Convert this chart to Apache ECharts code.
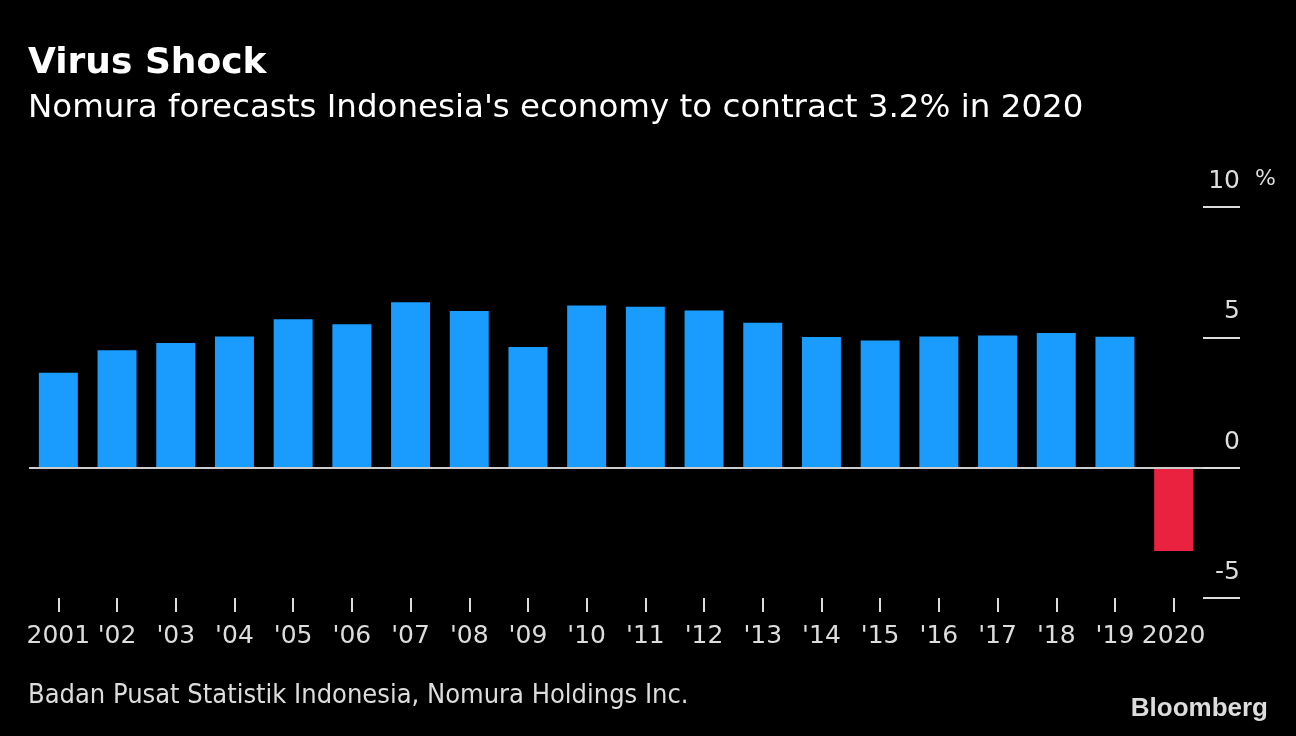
<!DOCTYPE html>
<html>
<head>
<meta charset="utf-8">
<script src="https://cdn.jsdelivr.net/npm/echarts@6/dist/echarts.min.js"></script>
<style>
  html, body { margin: 0; padding: 0; background: #000; }
  #chart { width: 1296px; height: 736px; }
</style>
</head>
<body>
<div id="chart"></div>
<script>
const years = ['2001', "'02", "'03", "'04", "'05", "'06", "'07", "'08", "'09", "'10",
  "'11", "'12", "'13", "'14", "'15", "'16", "'17", "'18", "'19", '2020']
const growth = [3.64, 4.5, 4.78, 5.03, 5.69, 5.5, 6.35, 6.01, 4.63, 6.22,
  6.17, 6.03, 5.56, 5.01, 4.88, 5.03, 5.07, 5.17, 5.02, -3.2]
const yTicks = [-5, 0, 5, 10]

const chart = echarts.init(document.getElementById('chart'))
const font = 'DejaVu Sans'

const option = {
  backgroundColor: '#000',
  animation: false,
  title: {
    left: 23,
    top: 41,
    text: 'Virus Shock',
    subtext: "Nomura forecasts Indonesia's economy to contract 3.2% in 2020",
    itemGap: 10,
    textStyle: { color: '#fff', fontFamily: font, fontWeight: 'bold', fontSize: 36 },
    subtextStyle: { color: '#fff', fontFamily: font, fontSize: 32.5 },
  },
  grid: { left: 29, right: 93, top: 207, bottom: 138 },
  xAxis: {
    type: 'category',
    data: years,
    position: 'bottom',
    axisLine: { show: false, onZero: false },
    axisTick: { show: true, alignWithLabel: true, length: 14, lineStyle: { color: '#ddd', width: 2 } },
    axisLabel: { color: '#ddd', fontFamily: font, fontSize: 25, margin: 26, interval: 0 },
  },
  yAxis: {
    type: 'value',
    position: 'right',
    min: -5,
    max: 10,
    interval: 5,
    splitLine: { show: false },
    axisLine: { show: false },
    axisTick: { show: true, length: 37, lineStyle: { color: '#ddd', width: 2 } },
    axisLabel: {
      color: '#ddd', fontFamily: font, fontSize: 25, align: 'right', margin: 37,
      verticalAlign: 'bottom', padding: [0, 0, 13, 0],
      formatter: (v) => yTicks.includes(v) ? String(v) : '',
    },
  },
  graphic: [
    { type: 'text', left: 1255, top: 168, style: { text: '%', fill: '#ddd', font: '22px ' + font } },
    { type: 'text', left: 28, top: 682, style: { text: 'Badan Pusat Statistik Indonesia, Nomura Holdings Inc.', fill: '#ddd', font: '27px "DejaVu Sans Condensed", ' + font } },
    { type: 'text', right: 28, top: 696, style: { text: 'Bloomberg', fill: '#ddd', font: 'bold 26px "Liberation Sans Narrow", "Liberation Sans"' } },
  ],
  series: [
    {
      type: 'bar',
      data: growth.map(v => ({ value: v, itemStyle: { color: v < 0 ? '#ea2240' : '#1a9cff' } })),
      barCategoryGap: '33.6%',
      markLine: {
        silent: true,
        symbol: 'none',
        label: { show: false },
        lineStyle: { color: '#ccc', width: 2, type: 'solid' },
        data: [{ yAxis: 0 }],
      },
    },
  ],
}

chart.setOption(option)
</script>
</body>
</html>
